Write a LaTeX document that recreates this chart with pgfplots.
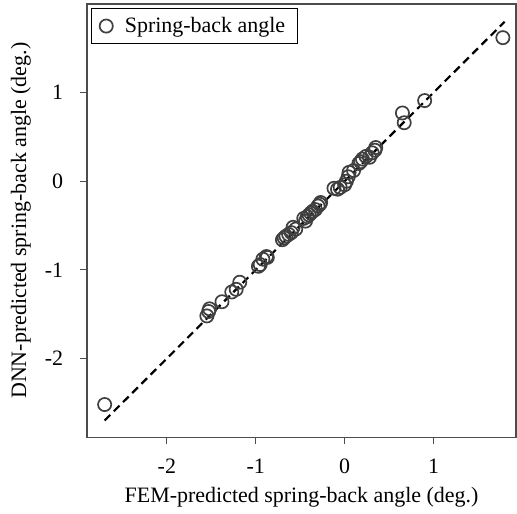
\documentclass[border=0pt]{standalone}
\usepackage{pgfplots}
\pgfplotsset{compat=1.18}
\usepackage{fontspec}
\setmainfont{Liberation Serif}
\begin{document}
\fontsize{11pt}{13pt}\selectfont
\begin{tikzpicture}
\begin{axis}[
  width=215pt, height=217pt, scale only axis,
  xmin=-2.9, xmax=1.93, ymin=-2.89, ymax=2.0,
  xtick={-2,-1,0,1}, ytick={-2,-1,0,1},
  tick align=outside, tick pos=left,
  major tick length=3.5pt,
  /pgf/number format/assume math mode=true,
  axis line style={draw=black!70, line width=0.8pt},
  tick style={black!70, line width=0.6pt},
  ticklabel style={font=\fontsize{11pt}{13pt}\selectfont},
  yticklabel style={xshift=-4.5pt},
  xticklabel style={yshift=-3.5pt},
  label style={font=\fontsize{11pt}{13pt}\selectfont},
  xlabel={FEM-predicted spring-back angle (deg.)},
  ylabel={DNN-predicted spring-back angle (deg.)},
  xlabel style={at={(axis description cs:0.5,0)}, anchor=center, yshift=-30pt},
  ylabel style={at={(axis description cs:0,0.5)}, anchor=center, rotate=0, yshift=33pt},
  legend style={draw=black, line width=0.5pt, font=\fontsize{11pt}{13pt}\selectfont, inner xsep=4pt, inner ysep=2pt, column sep=4pt, at={(0.01,0.99)}, anchor=north west},
  legend cell align=left,
]
\addplot[only marks, mark=o, mark size=3.3pt, mark options={draw=black!75, line width=0.85pt}] coordinates {
(-2.70,-2.52) (-1.55,-1.52) (-1.53,-1.47) (-1.52,-1.44) (-1.38,-1.36)
(-1.27,-1.25) (-1.22,-1.22) (-1.18,-1.14) (-0.97,-0.96) (-0.95,-0.94)
(-0.92,-0.88) (-0.88,-0.85) (-0.87,-0.86) (-0.70,-0.66) (-0.68,-0.64)
(-0.66,-0.62) (-0.63,-0.60) (-0.60,-0.58) (-0.58,-0.52) (-0.55,-0.54)
(-0.46,-0.42) (-0.44,-0.45) (-0.42,-0.40) (-0.40,-0.38) (-0.38,-0.36)
(-0.36,-0.34) (-0.33,-0.32) (-0.30,-0.28) (-0.28,-0.26) (-0.27,-0.24)
(-0.12,-0.08) (-0.08,-0.09) (-0.05,-0.07) (0.00,-0.04) (0.02,0.00)
(0.04,0.05) (0.05,0.10) (0.10,0.12) (0.16,0.20) (0.18,0.22)
(0.20,0.25) (0.24,0.28) (0.28,0.27) (0.31,0.32) (0.34,0.35)
(0.35,0.38) (0.65,0.77) (0.67,0.66) (0.90,0.91) (1.78,1.62)
};
\addlegendentry{Spring-back angle}
\addplot[black, line width=1.1pt, dash pattern=on 4pt off 2.5pt, forget plot] coordinates {(-2.7,-2.7) (1.8,1.8)};
\end{axis}
\pgfresetboundingbox
\path ([shift={(-43.5pt,-38pt)}]current axis.south west) rectangle ([shift={(0.4pt,2pt)}]current axis.north east);
\end{tikzpicture}
\end{document}
